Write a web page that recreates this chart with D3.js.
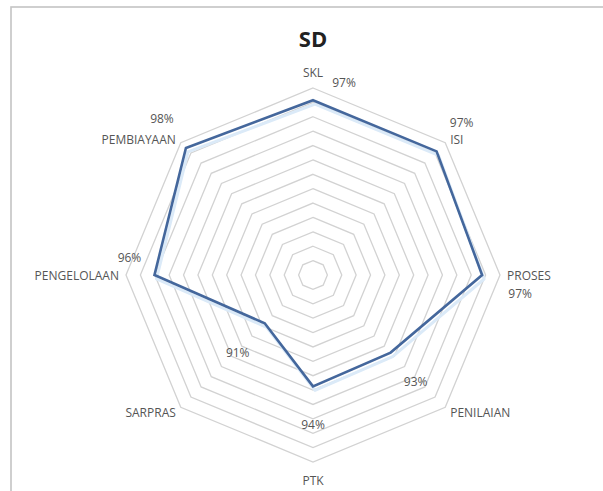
<!DOCTYPE html>
<html>
<head>
<meta charset="utf-8">
<script src="https://cdn.jsdelivr.net/npm/d3@7"></script>
<style>
  html, body { margin: 0; padding: 0; background: #ffffff; }
  svg { display: block; }
  text { font-family: "Open Sans", "Noto Sans", sans-serif; }
</style>
</head>
<body>
<svg id="chart" width="603" height="491"></svg>
<script>
// ---- data ----
const categories = ["SKL", "ISI", "PROSES", "PENILAIAN", "PTK", "SARPRAS", "PENGELOLAAN", "PEMBIAYAAN"];
const values = [97.45, 97.45, 97.1, 93.45, 93.55, 90.9, 96.45, 97.75]; // percent
const title = "SD";
const ringCount = 13;
const radialDomain = [86.7, 98.2];
// value-label nudges (dx, dy from the data point), as Excel placed them
const labelDx = [31, 25, 38, 25, 0, -27, -25, -24];
const labelDy = [-18, -29, 18, 29, 38, 29, -18, -29];

// ---- layout ----
const W = 603, H = 491;
const cx = 313, cy = 275, R = 187;
const svg = d3.select("#chart");

// frame
svg.append("rect").attr("x", 11).attr("y", 7).attr("width", 700).attr("height", 600)
  .attr("fill", "#ffffff").attr("stroke", "#c4c4c4").attr("stroke-width", 1.6);

// title
svg.append("text").attr("x", cx).attr("y", 47).attr("text-anchor", "middle")
  .attr("font-size", 22).attr("font-weight", 700).attr("fill", "#222222").text(title);

const r = d3.scaleLinear().domain(radialDomain).range([0, R]);
const angle = d3.scalePoint().domain(categories).range([0, 2 * Math.PI * (categories.length - 1) / categories.length]);

const g = svg.append("g").attr("transform", `translate(${cx},${cy})`);

// grid rings
const ringLevels = d3.range(1, ringCount + 1).map(i => radialDomain[0] + i * (radialDomain[1] - radialDomain[0]) / ringCount);
const ringLine = d3.lineRadial().curve(d3.curveLinearClosed);
g.selectAll("path.ring").data(ringLevels).join("path")
  .attr("class", "ring")
  .attr("d", lv => ringLine(categories.map(c => [angle(c), r(lv)])))
  .attr("fill", "none").attr("stroke", "#d2d2d2").attr("stroke-width", 1.3);

// data line
const pts = categories.map((c, i) => [angle(c), r(values[i])]);
const dataPath = ringLine(pts);
g.append("path").attr("d", dataPath).attr("transform", "translate(2,4)")
  .attr("fill", "none").attr("stroke", "#dbeaf8").attr("stroke-width", 3).attr("stroke-linejoin", "round");
g.append("path").attr("d", dataPath)
  .attr("fill", "none").attr("stroke", "#44679c").attr("stroke-width", 2.6).attr("stroke-linejoin", "miter");

// category labels
const labelColor = "#555555";
const lr = R + 7;
g.selectAll("text.cat").data(categories).join("text")
  .attr("class", "cat")
  .attr("x", c => lr * Math.sin(angle(c)))
  .attr("y", c => {
    const co = Math.cos(angle(c));
    let y = -lr * co;
    if (co > 0.99) y -= 9;
    else if (co < -0.99) y += 11;
    else if (co > 0.5) y += 2;
    return y;
  })
  .attr("text-anchor", c => {
    const s = Math.sin(angle(c));
    return s > 0.01 ? "start" : (s < -0.01 ? "end" : "middle");
  })
  .attr("dominant-baseline", "central")
  .attr("font-size", 12).attr("fill", labelColor)
  .text(c => c);

// value labels
const fmt = v => Math.round(v) + "%";
g.selectAll("text.val").data(categories).join("text")
  .attr("class", "val")
  .attr("x", (c, i) => r(values[i]) * Math.sin(angle(c)) + labelDx[i])
  .attr("y", (c, i) => -r(values[i]) * Math.cos(angle(c)) + labelDy[i])
  .attr("text-anchor", "middle").attr("dominant-baseline", "central")
  .attr("font-size", 12).attr("fill", labelColor)
  .text((c, i) => fmt(values[i]));
</script>
</body>
</html>
